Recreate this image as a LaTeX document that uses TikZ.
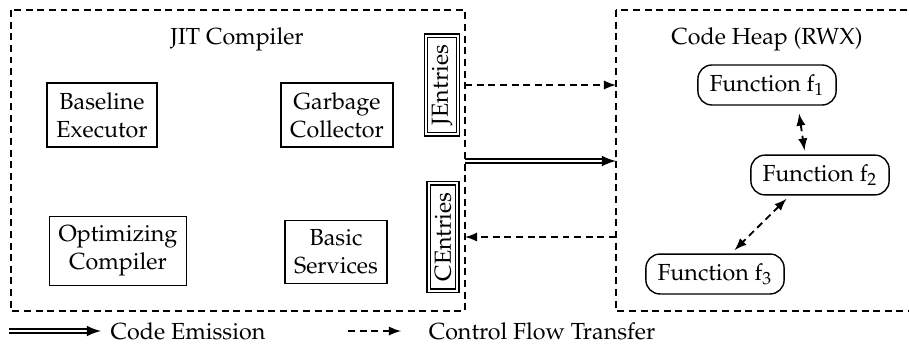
\documentclass[tikz,border=0pt]{standalone}
\usepackage[T1]{fontenc}
\usepackage{mathpazo}
\usepackage{tikz}
\usetikzlibrary{arrows,shapes}

\begin{document}
\begin{tikzpicture}[x=0.43pt,y=-0.43pt,
  region/.style={draw,thick,dash pattern=on 3pt off 2pt},
  module/.style={draw,semithick,align=center,inner sep=4pt},
  entry/.style={draw,semithick,double,double distance=0.9pt,rotate=90,inner sep=2.5pt},
  func/.style={draw,semithick,rounded corners=6pt,inner xsep=5pt,inner ysep=4pt},
  flow/.style={->,>=latex,thick,dash pattern=on 3pt off 2pt},
  emit/.style={->,>=latex,line width=0.8pt,double,double distance=0.6pt}]
\useasboundingbox (0,0) rectangle (909,348);
% the two regions
\coordinate (jitNW) at (11,10);
\coordinate (jitSE) at (465,311);
\coordinate (heapNW) at (616,10);
\coordinate (heapSE) at (920,311);
\draw [region] (jitNW) rectangle (jitSE);
\draw [region] (heapNW) rectangle (heapSE);
\node (jitTitle) at (237,39) {JIT Compiler};
\node (heapTitle) at (767,39) {Code Heap (RWX)};
% JIT compiler parts
\node (baseline) at (102,115)[module] {Baseline\\Executor};
\node (gc) at (337,115)[module] {Garbage\\Collector};
\node (opt) at (118,251)[module] {Optimizing\\Compiler};
\node (services) at (336,252)[module] {Basic\\Services};
\node (JEntries) at (442,85)[entry,inner xsep=4pt] {JEntries};
\node (CEntries) at (443,237)[entry,inner xsep=4pt] {CEntries};
% code heap
\node (f1) at (767,85)[func] {Function $\mathrm{f}_1$};
\node (f2) at (820,175)[func] {Function $\mathrm{f}_2$};
\node (f3) at (715,274)[func] {Function $\mathrm{f}_3$};
% transfers
\coordinate (emitStart) at (465,161);
\draw [flow] (JEntries -| jitSE) -- (JEntries -| heapNW);
\draw [emit] (emitStart) -- (emitStart -| heapNW);
\draw [flow] (CEntries -| heapNW) -- (CEntries -| jitSE);
\draw [flow,<->,shorten <=3.4pt,shorten >=1.7pt] ([xshift=13.3pt]f1.south) -- ([xshift=-6.4pt]f2.north);
\draw [flow,<->,shorten <=2pt,shorten >=2pt] ([xshift=-13pt]f2.south) -- ([xshift=7pt]f3.north);
% legend
\coordinate (legEmitA) at (9,331);
\node (legEmit) at (188,331)[inner sep=2pt] {Code Emission};
\draw [emit] (legEmitA) -- ([xshift=-2pt]legEmit.west);
\coordinate (legFlowA) at (348,331);
\coordinate (legFlowB) at (401,331);
\node (legFlow) at (542,331) {Control Flow Transfer};
\draw [flow] (legFlowA) -- (legFlowB);
\end{tikzpicture}
\end{document}
